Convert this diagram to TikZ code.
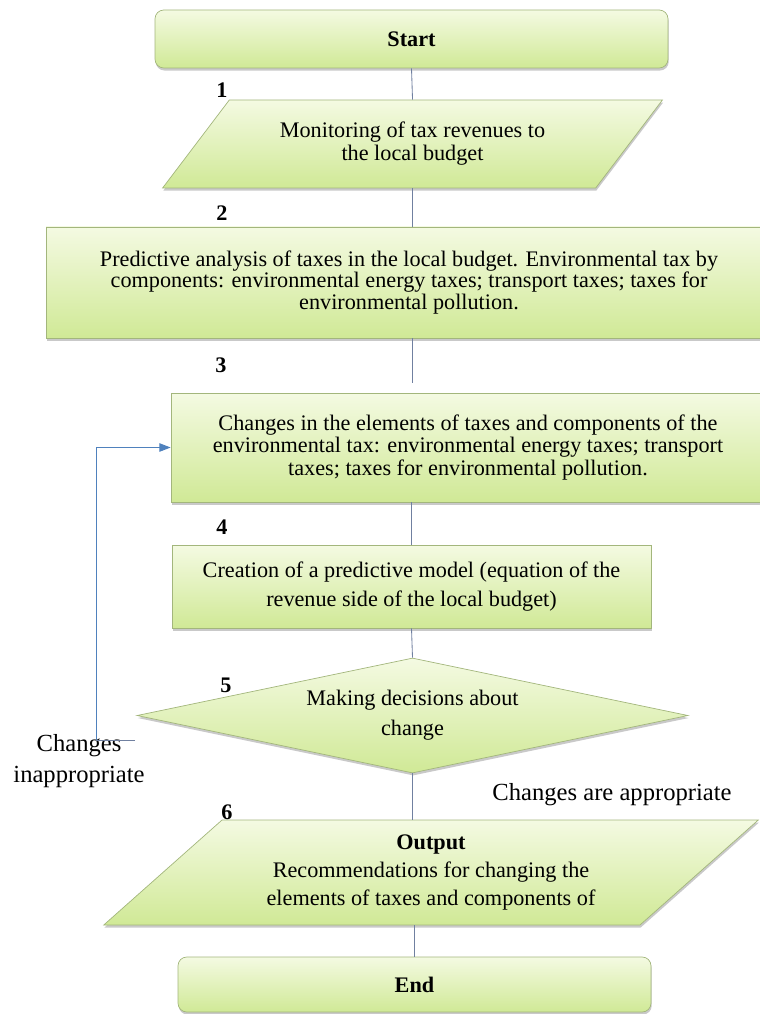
\documentclass[tikz,border=0pt]{standalone}
\usepackage{fontspec}
\setmainfont{Liberation Serif}
\usetikzlibrary{shapes.geometric, arrows.meta, positioning, shadows}

\definecolor{boxtop}{RGB}{244,250,226}
\definecolor{boxbot}{RGB}{208,233,150}
\definecolor{boxline}{RGB}{163,182,124}
\definecolor{flowline}{RGB}{112,128,160}
\definecolor{loopline}{RGB}{79,129,189}

\begin{document}
\begin{tikzpicture}[
    font=\fontsize{15.8}{17}\selectfont,
    lead/.style={font=\fontsize{15.8}{#1}\selectfont},
    fill green/.style={draw=boxline, line width=0.5pt, top color=boxtop, bottom color=boxbot,
        drop shadow={shadow xshift=0.5pt, shadow yshift=-1.8pt, opacity=0.3, fill=black!70}},
    block/.style={fill green, rectangle, align=center, inner sep=2pt},
    terminal/.style={block, rounded corners=2.2mm},
    iobox/.style={fill green, trapezium, trapezium stretches=true, align=center, inner sep=0pt},
    decision/.style={fill green, diamond, align=center, inner sep=0pt},
    stepnum/.style={font=\fontsize{15.8}{17}\selectfont\bfseries},
    flow/.style={draw=flowline, line width=0.6pt},
    back/.style={draw=loopline, line width=0.7pt, -{Triangle[length=8pt, width=6pt]}}
]
    \useasboundingbox (0,0) rectangle (19,-25.35);

    % blocks
    \node[terminal, minimum width=12.825cm, minimum height=1.45cm] (Start) at (10.2875,-0.975) {\textbf{Start}};
    \node[iobox, lead=16.4pt, trapezium left angle=42, trapezium right angle=138, minimum width=12.525cm, minimum height=2.2cm] (Monitor) at (10.3125,-3.6) {Monitoring of tax revenues to\\the local budget};
    \node[block, lead=15.3pt, minimum width=18.15cm, minimum height=2.775cm] (Analysis) at (10.225,-7.0625) {Predictive analysis of taxes in the local budget. Environmental tax by\\components: environmental energy taxes; transport taxes; taxes for\\environmental pollution.};
    \node[block, lead=16pt, minimum width=14.85cm, minimum height=2.725cm] (Changes) at (11.7,-11.1875) {Changes in the elements of taxes and components of the\\environmental tax: environmental energy taxes; transport\\taxes; taxes for environmental pollution.};
    \node[block, lead=20.6pt, minimum width=11.975cm, minimum height=2.075cm] (Model) at (10.2875,-14.6625) {Creation of a predictive model (equation of the\\revenue side of the local budget)};
    \node[decision, lead=21.3pt, aspect=4.8, minimum width=13.775cm, minimum height=2.875cm] (Decision) at (10.3125,-17.8875) {Making decisions about\\change};
    \node[iobox, lead=19.6pt, trapezium left angle=38.7, trapezium right angle=141.3, minimum width=16.45cm, minimum height=2.625cm] (Output) at (10.775,-21.8125) {\textbf{Output}\\Recommendations for changing the\\elements of taxes and components of};
    \node[terminal, minimum width=11.825cm, minimum height=1.375cm] (End) at (10.3625,-24.6125) {\textbf{End}};

    % step numbers
    \node[stepnum] (n1) at (5.55,-2.25) {1};
    \node[stepnum] (n2) at (5.55,-5.325) {2};
    \node[stepnum] (n3) at (5.525,-9.125) {3};
    \node[stepnum] (n4) at (5.55,-13.175) {4};
    \node[stepnum] (n5) at (5.65,-17.125) {5};
    \node[stepnum] (n6) at (5.675,-20.3) {6};

    % branch labels
    \node[align=center, font=\fontsize{17.5}{22}\selectfont] (NoLabel) at (1.975,-19.025) {Changes\\inappropriate};
    \node[font=\fontsize{17.5}{22}\selectfont] (YesLabel) at (15.3,-19.875) {Changes are appropriate};

    % connectors
    \draw[flow] (Start.south) -- (Monitor.north);
    \draw[flow] (Monitor.south) -- (Monitor.south |- Analysis.north);
    \draw[flow, shorten >=0.25cm] (Monitor.south |- Analysis.south) -- (Monitor.south |- Changes.north);
    \draw[flow] (Model.north |- Changes.south) -- (Model.north);
    \draw[flow] (Model.south) -- (Decision.north);
    \draw[flow] (Decision.south) -- (Decision.south |- Output.north);
    \draw[flow] (End.north |- Output.south) -- (End.north);

    % loop back
    \coordinate (LoopStub) at (3.375,-18.5);
    \coordinate (LoopCorner) at (2.4,-18.5);
    \draw[flow] (LoopStub) -- (LoopCorner);
    \draw[back] (LoopCorner) |- (Changes.west);
\end{tikzpicture}
\end{document}
